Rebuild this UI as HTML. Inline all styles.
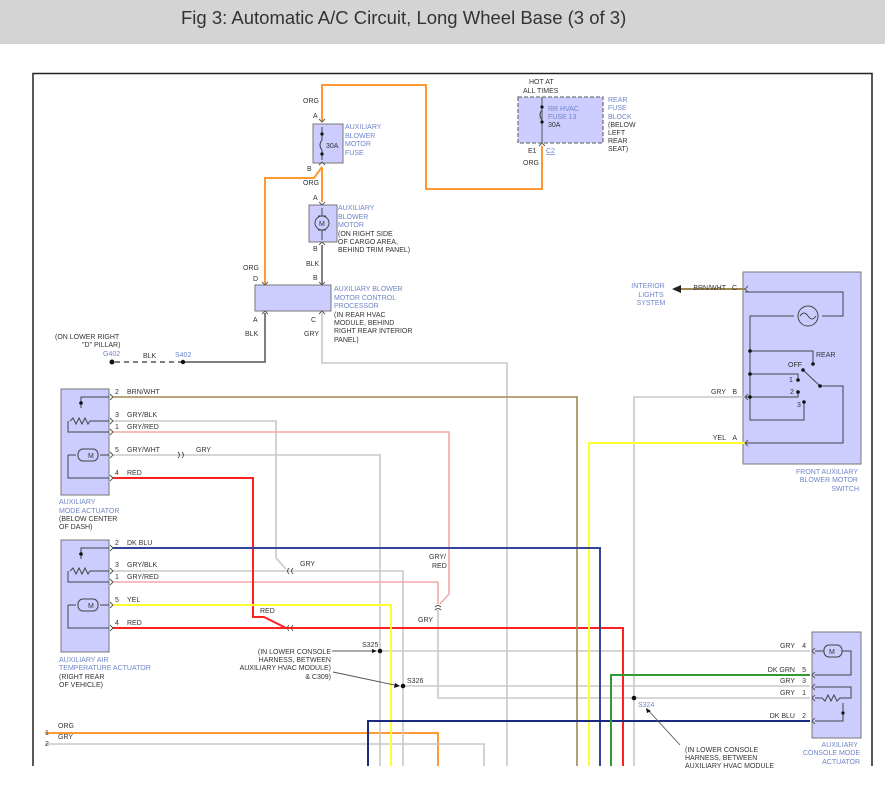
<!DOCTYPE html>
<html><head><meta charset="utf-8"><style>
html,body{margin:0;padding:0;background:#fff;width:885px;height:795px;overflow:hidden}
.bar{position:absolute;left:0;top:0;width:885px;height:44px;background:#d4d4d4}
.bar span{position:absolute;left:181px;top:7px;font:18.5px "Liberation Sans",sans-serif;color:#333;white-space:nowrap}
svg{position:absolute;left:0;top:0}
text{font-family:"Liberation Sans",sans-serif;font-size:7px;fill:#333}
.b{fill:#6f86c8}
</style></head><body>
<div class="bar"><span>Fig 3: Automatic A/C Circuit, Long Wheel Base (3 of 3)</span></div>
<svg width="885" height="795" viewBox="0 0 885 795">
<!-- frame -->
<path d="M33 766 V73.5 H872 V766" fill="none" stroke="#222" stroke-width="1.5"/>

<!-- boxes -->
<g fill="#ccccff" stroke="#777" stroke-width="1">
<rect x="313" y="124" width="30" height="39"/>
<rect x="309" y="205" width="28" height="37"/>
<rect x="255" y="285" width="76" height="26"/>
<rect x="518" y="97" width="85" height="46" stroke-dasharray="4,2" stroke-width="1.3"/>
<rect x="61" y="389" width="48" height="106"/>
<rect x="61" y="540" width="48" height="112"/>
<rect x="743" y="272" width="118" height="192"/>
<rect x="812" y="632" width="49" height="106"/>
</g>

<!-- wires -->
<g fill="none" stroke-width="2">
<path d="M322 122 V85 H426 V189 H542 V146" stroke="#ff9933"/>
<path d="M322 167 V202 M322 167 L314 178 H265 V284" stroke="#ff9933"/>
<path d="M45 733 H438 V766" stroke="#ff9933"/>
<path d="M322 245 V284" stroke="#555" stroke-width="1.5"/>
<path d="M265 313 V362 H183" stroke="#555" stroke-width="1.5"/>
<path d="M183 362 H112" stroke="#555" stroke-width="1.5" stroke-dasharray="5,4"/>
<g stroke="#c8c8c8" stroke-width="1.6">
<path d="M322 313 V363 H507 V766"/>
<path d="M112 421 H276 V558 L286 569 M112 571 H403 V766"/>
<path d="M112 455 H380 V766"/>
<path d="M438 610 V698 H810"/>
<path d="M380 651 H810 M403 686 H810"/>
<path d="M745 397 H634 V766"/>
<path d="M45 744 H484 V766"/>
</g>
<path d="M112 432 H449 V594 L440 604" stroke="#f2aaaa" stroke-width="1.6"/>
<path d="M112 582 H438 V604" stroke="#f2aaaa" stroke-width="1.6"/>
<path d="M112 478 H253 V617 L264 617 L286 628" stroke="#ff2020"/>
<path d="M112 628 H623 V766" stroke="#ff2020"/>
<path d="M112 605 H391 V766" stroke="#ffff33"/>
<path d="M745 443 H589 V766" stroke="#ffff33"/>
<path d="M112 397 H577 V766" stroke="#a08850" stroke-width="1.6"/>
<path d="M745 289 H680" stroke="#a08850" stroke-width="2"/>
<path d="M112 548 H600 V766" stroke="#33449a"/>
<path d="M810 721 H368 V766" stroke="#1a2a80"/>
<path d="M810 675 H611 V766" stroke="#339933"/>
<path d="M542 97 V143" stroke="#555" stroke-width="1"/>
</g>
<polygon points="672,289 681,285 681,293" fill="#222"/>

<!-- dots -->
<g fill="#111">
<circle cx="183" cy="362" r="2.2"/><circle cx="112" cy="362" r="2.5"/>
<circle cx="380" cy="651" r="2.3"/><circle cx="403" cy="686" r="2.3"/><circle cx="634" cy="698" r="2.3"/>
</g>
<!-- connectors -->
<g fill="none" stroke="#555" stroke-width="0.9">
<path d="M110 394 l3 3 l-3 3 M110 418 l3 3 l-3 3 M110 429 l3 3 l-3 3 M110 452 l3 3 l-3 3 M110 475 l3 3 l-3 3"/>
<path d="M110 545 l3 3 l-3 3 M110 568 l3 3 l-3 3 M110 579 l3 3 l-3 3 M110 602 l3 3 l-3 3 M110 625 l3 3 l-3 3"/>
<path d="M178 452 q3 3 0 6 M182 452 q3 3 0 6"/>
<path d="M289 568 q-3 3 0 6 M293 568 q-3 3 0 6 M289 625 q-3 3 0 6 M293 625 q-3 3 0 6"/>
<path d="M435 607 q3 -3 6 0 M435 610 q3 -3 6 0"/>
<path d="M748 286 l-3 3 l3 3 M748 394 l-3 3 l3 3 M748 440 l-3 3 l3 3"/>
<path d="M815 648 l-3 3 l3 3 M815 672 l-3 3 l3 3 M815 684 l-3 3 l3 3 M815 695 l-3 3 l3 3 M815 718 l-3 3 l3 3"/>
<path d="M319 119 l3 3 l3 -3 M319 165 l3 -3 l3 3 M319 202 l3 3 l3 -3 M319 245 l3 -3 l3 3 M262 282 l3 3 l3 -3 M319 282 l3 3 l3 -3 M262 314 l3 -3 l3 3 M319 314 l3 -3 l3 3 M539 146 l3 -3 l3 3"/>
</g>

<!-- component internals -->
<g fill="none" stroke="#444" stroke-width="1">
<path d="M322 127 V140 M322 150 V160 M322 140 q-4 5 0 10"/>
<path d="M542 110 q-4 5 0 10"/>
<circle cx="322" cy="223" r="7"/><path d="M322 208 V216 M322 230 V240 M318 216 h8 M318 230 h8"/>
<!-- left actuator 1 -->
<path d="M109 397 H81 V408 M70 421 l3 -3 l3 6 l3 -6 l3 6 l3 -6 l3 6 l2 -3 H109 M68 421 V432 H109 M68 455 H76 M100 455 H109 M68 455 V478 H109"/>
<rect x="78" y="449" width="20" height="12" rx="5"/>
<path d="M81 540 V0" stroke="none"/>
<!-- left actuator 2 -->
<path d="M109 548 H81 V559 M70 571 l3 -3 l3 6 l3 -6 l3 6 l3 -6 l3 6 l2 -3 H109 M68 571 V582 H109 M68 605 H76 M100 605 H109 M68 605 V628 H109"/>
<rect x="78" y="599" width="20" height="12" rx="5"/>
<!-- switch -->
<path d="M745 292 H843 V316 H822 M794 316 H750 V420 H804 V402 M750 351 H813 V364 M750 374 H798 V380 M745 397 H798 V392 M803 370 L820 386 H843 V443 H745"/>
<circle cx="808" cy="316" r="10"/>
<path d="M800 316 q4 -6 8 0 q4 6 8 0"/>
<!-- console actuator -->
<path d="M815 651 H824 M842 651 H851 V675 H815 M815 687 H851 V698 H840 l-3 3 l-3 -6 l-3 6 l-3 -6 l-3 6 l-3 -3 H815 M843 703 V721 H815"/>
<rect x="824" y="645" width="18" height="12" rx="5"/>
</g>
<g fill="#111">
<circle cx="81" cy="403" r="1.8"/><circle cx="81" cy="554" r="1.8"/>
<circle cx="322" cy="134" r="1.6"/><circle cx="322" cy="154" r="1.6"/>
<circle cx="542" cy="107" r="1.6"/><circle cx="542" cy="122" r="1.6"/>
<circle cx="750" cy="351" r="1.8"/><circle cx="750" cy="374" r="1.8"/><circle cx="750" cy="397" r="1.8"/>
<circle cx="813" cy="364" r="1.8"/><circle cx="798" cy="380" r="1.8"/><circle cx="798" cy="392" r="1.8"/><circle cx="804" cy="402" r="1.8"/>
<circle cx="803" cy="370" r="1.8"/><circle cx="820" cy="386" r="1.8"/>
<circle cx="843" cy="713" r="1.6"/>
</g>
<g font-size="8">
<text x="88" y="458" font-size="8">M</text><text x="88" y="608">M</text>
<text x="319" y="226">M</text><text x="829" y="654">M</text>
</g>

<!-- labels -->
<text x="303" y="103">ORG</text><text x="313" y="118">A</text><text x="307" y="171">B</text>
<text x="303" y="185">ORG</text><text x="313" y="200">A</text><text x="313" y="251">B</text>
<text x="306" y="266">BLK</text><text x="313" y="280">B</text>
<text x="243" y="270">ORG</text><text x="253" y="281">D</text>
<text x="253" y="322">A</text><text x="245" y="336">BLK</text>
<text x="311" y="322">C</text><text x="304" y="336">GRY</text>
<text x="326" y="148">30A</text>
<text class="b" x="345" y="129">AUXILIARY</text><text class="b" x="345" y="138">BLOWER</text><text class="b" x="345" y="146">MOTOR</text><text class="b" x="345" y="155">FUSE</text>
<text class="b" x="338" y="210">AUXILIARY</text><text class="b" x="338" y="219">BLOWER</text><text class="b" x="338" y="227">MOTOR</text>
<text x="338" y="236">(ON RIGHT SIDE</text><text x="338" y="244">OF CARGO AREA,</text><text x="338" y="252">BEHIND TRIM PANEL)</text>
<text class="b" x="334" y="291">AUXILIARY BLOWER</text><text class="b" x="334" y="300">MOTOR CONTROL</text><text class="b" x="334" y="308">PROCESSOR</text>
<text x="334" y="317">(IN REAR HVAC</text><text x="334" y="325">MODULE, BEHIND</text><text x="334" y="333">RIGHT REAR INTERIOR</text><text x="334" y="342">PANEL)</text>
<text x="529" y="84">HOT AT</text><text x="523" y="93">ALL TIMES</text>
<text class="b" x="548" y="111">RR HVAC</text><text class="b" x="548" y="119">FUSE 13</text><text x="548" y="127">30A</text>
<text class="b" x="608" y="102">REAR</text><text class="b" x="608" y="110">FUSE</text><text class="b" x="608" y="119">BLOCK</text>
<text x="608" y="127">(BELOW</text><text x="608" y="135">LEFT</text><text x="608" y="143">REAR</text><text x="608" y="151">SEAT)</text>
<text x="528" y="153">E1</text><text class="b" x="546" y="153" text-decoration="underline">C2</text><text x="523" y="165">ORG</text>
<text x="55" y="339">(ON LOWER RIGHT</text><text x="82" y="347">"D" PILLAR)</text>
<text class="b" x="103" y="356">G402</text><text x="143" y="358">BLK</text><text class="b" x="175" y="357">S402</text>
<text x="115" y="394">2</text><text x="127" y="394">BRN/WHT</text>
<text x="115" y="417">3</text><text x="127" y="417">GRY/BLK</text>
<text x="115" y="429">1</text><text x="127" y="429">GRY/RED</text>
<text x="115" y="452">5</text><text x="127" y="452">GRY/WHT</text><text x="196" y="452">GRY</text>
<text x="115" y="475">4</text><text x="127" y="475">RED</text>
<text class="b" x="59" y="504">AUXILIARY</text><text class="b" x="59" y="513">MODE ACTUATOR</text>
<text x="59" y="521">(BELOW CENTER</text><text x="59" y="529">OF DASH)</text>
<text x="115" y="545">2</text><text x="127" y="545">DK BLU</text>
<text x="115" y="567">3</text><text x="127" y="567">GRY/BLK</text><text x="300" y="566">GRY</text>
<text x="115" y="579">1</text><text x="127" y="579">GRY/RED</text>
<text x="115" y="602">5</text><text x="127" y="602">YEL</text><text x="260" y="613">RED</text>
<text x="115" y="625">4</text><text x="127" y="625">RED</text>
<text x="429" y="559">GRY/</text><text x="432" y="568">RED</text><text x="418" y="622">GRY</text>
<text class="b" x="59" y="662">AUXILIARY AIR</text><text class="b" x="59" y="670">TEMPERATURE ACTUATOR</text>
<text x="59" y="679">(RIGHT REAR</text><text x="59" y="687">OF VEHICLE)</text>
<text x="362" y="647">S325</text><text x="407" y="683">S326</text><text class="b" x="638" y="707">S324</text>
<g text-anchor="end"><text x="331" y="654">(IN LOWER CONSOLE</text><text x="331" y="662">HARNESS, BETWEEN</text><text x="331" y="670">AUXILIARY HVAC MODULE)</text><text x="331" y="679">&amp; C309)</text></g>
<path d="M332 651 H376 M333 672 L399 686 M680 745 L647 709" stroke="#555" stroke-width="0.9" fill="none"/>
<polygon points="377,651 372,649 372,653" fill="#111"/><polygon points="400,686 395,683 394,688" fill="#111"/><polygon points="646,708 647,713 651,711" fill="#111"/>
<text x="685" y="752">(IN LOWER CONSOLE</text><text x="685" y="760">HARNESS, BETWEEN</text><text x="685" y="768">AUXILIARY HVAC MODULE</text>
<text x="45" y="735">1</text><text x="58" y="728">ORG</text><text x="45" y="746">2</text><text x="58" y="739">GRY</text>
<g text-anchor="end">
<text x="795" y="648">GRY</text><text x="806" y="648">4</text>
<text x="795" y="672">DK GRN</text><text x="806" y="672">5</text>
<text x="795" y="683">GRY</text><text x="806" y="683">3</text>
<text x="795" y="695">GRY</text><text x="806" y="695">1</text>
<text x="795" y="718">DK BLU</text><text x="806" y="718">2</text>
<text class="b" x="858" y="747">AUXILIARY</text><text class="b" x="860" y="755">CONSOLE MODE</text><text class="b" x="860" y="764">ACTUATOR</text>
<text x="726" y="290">BRN/WHT</text><text x="737" y="290">C</text>
<text x="726" y="394">GRY</text><text x="737" y="394">B</text>
<text x="726" y="440">YEL</text><text x="737" y="440">A</text>
<text class="b" x="858" y="474">FRONT AUXILIARY</text><text class="b" x="858" y="482">BLOWER MOTOR</text><text class="b" x="859" y="491">SWITCH</text>
</g>
<g text-anchor="middle"><text class="b" x="648" y="288">INTERIOR</text><text class="b" x="651" y="297">LIGHTS</text><text class="b" x="651" y="305">SYSTEM</text></g>
<text x="816" y="357">REAR</text><text x="788" y="367">OFF</text><text x="789" y="382">1</text><text x="790" y="394">2</text><text x="797" y="407">3</text>
</svg>
</body></html>
